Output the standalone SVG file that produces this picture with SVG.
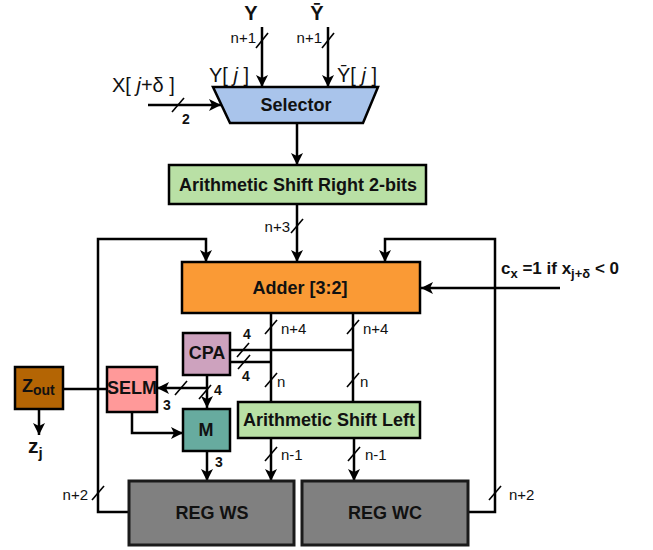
<svg xmlns="http://www.w3.org/2000/svg" width="653" height="550" viewBox="0 0 653 550">
<defs>
<marker id="arr" viewBox="0 0 12 12" refX="12" refY="6" markerWidth="12" markerHeight="12" markerUnits="userSpaceOnUse" orient="auto">
<path d="M0,0 L12,6 L0,12 L3,6 z" fill="#000"/>
</marker>
<style>
.box{stroke:#000;stroke-width:2.5}
.t{font-family:"Liberation Sans",Arial,sans-serif;font-weight:bold;font-size:18px;text-anchor:middle;fill:#111}
.s{font-family:"Liberation Sans",Arial,sans-serif;font-size:15px;fill:#111}
.b{font-family:"Liberation Sans",Arial,sans-serif;font-weight:bold;fill:#111}
.r{font-family:"Liberation Sans",Arial,sans-serif;fill:#111}
.w{fill:none;stroke:#000;stroke-width:2.5}
.a{fill:none;stroke:#000;stroke-width:2.5;marker-end:url(#arr)}
.sl{stroke:#000;stroke-width:1.6}
</style>
</defs>
<rect width="653" height="550" fill="#fff"/>

<g id="connectors">
<line class="a" x1="262" y1="27" x2="262" y2="87"/>
<line class="a" x1="328" y1="27" x2="328" y2="87"/>
<line class="a" x1="148" y1="105" x2="221" y2="105"/>
<line class="a" x1="297" y1="123" x2="297" y2="165"/>
<line class="a" x1="297" y1="204" x2="297" y2="262"/>
<path class="a" d="M129,512 H98 V239 H206 V262"/>
<path class="a" d="M467,512 H495 V239 H385 V262"/>
<line class="a" x1="560" y1="288" x2="421" y2="288"/>
<line class="w" x1="271" y1="313" x2="271" y2="402"/>
<line class="w" x1="353" y1="313" x2="353" y2="402"/>
<line class="w" x1="230" y1="350" x2="353" y2="350"/>
<line class="w" x1="230" y1="362" x2="271" y2="362"/>
<line class="a" x1="207" y1="375" x2="207" y2="408"/>
<line class="a" x1="207" y1="388" x2="157" y2="388"/>
<path class="a" d="M132,412 V433 H183"/>
<line class="w" x1="63" y1="389" x2="107" y2="389"/>
<line class="a" x1="39" y1="409" x2="39" y2="435"/>
<line class="a" x1="207" y1="451" x2="207" y2="481"/>
<line class="a" x1="271" y1="438" x2="271" y2="481"/>
<line class="a" x1="354" y1="438" x2="354" y2="481"/>
<!-- bus slashes -->
<line class="sl" x1="256" y1="48" x2="268" y2="33"/>
<line class="sl" x1="322" y1="48" x2="334" y2="33"/>
<line class="sl" x1="172" y1="112" x2="184" y2="98"/>
<line class="sl" x1="291" y1="233" x2="303" y2="219"/>
<line class="sl" x1="92" y1="500" x2="104" y2="486"/>
<line class="sl" x1="489" y1="500" x2="501" y2="486"/>
<line class="sl" x1="265" y1="334" x2="277" y2="320"/>
<line class="sl" x1="347" y1="334" x2="359" y2="320"/>
<line class="sl" x1="265" y1="387" x2="277" y2="373"/>
<line class="sl" x1="347" y1="387" x2="359" y2="373"/>
<line class="sl" x1="237" y1="357" x2="249" y2="343"/>
<line class="sl" x1="238" y1="369" x2="250" y2="355"/>
<line class="sl" x1="199" y1="399" x2="211" y2="385"/>
<line class="sl" x1="175" y1="395" x2="187" y2="381"/>
<line class="sl" x1="265" y1="461" x2="277" y2="447"/>
<line class="sl" x1="348" y1="461" x2="360" y2="447"/>
</g>

<g id="labels">
<text class="b" x="251" y="20" font-size="20" text-anchor="middle">Y</text>
<text class="b" x="317" y="20" font-size="20" text-anchor="middle">Ȳ</text>
<text class="s" x="256" y="43" text-anchor="end">n+1</text>
<text class="s" x="322" y="43" text-anchor="end">n+1</text>
<text class="r" x="209" y="82" font-size="20">Y[ <tspan font-style="italic">j</tspan> ]</text>
<text class="r" x="337" y="82" font-size="20">Ȳ[ <tspan font-style="italic">j</tspan> ]</text>
<text class="r" x="112" y="92" font-size="20">X[ <tspan font-style="italic">j</tspan>+δ ]</text>
<text class="b" x="182" y="124" font-size="14">2</text>
<text class="s" x="290" y="232" text-anchor="end">n+3</text>
<text class="b" x="501" y="274" font-size="17">c<tspan font-size="13" dy="4">x</tspan><tspan dy="-4"> =1 if x</tspan><tspan font-size="13" dy="4">j+δ</tspan><tspan dy="-4"> &lt; 0</tspan></text>
<text class="s" x="281" y="334">n+4</text>
<text class="s" x="363" y="334">n+4</text>
<text class="s" x="277" y="387">n</text>
<text class="s" x="360" y="387">n</text>
<text class="b" x="247" y="339" font-size="14" text-anchor="middle">4</text>
<text class="b" x="246" y="381" font-size="14" text-anchor="middle">4</text>
<text class="b" x="218" y="395" font-size="14" text-anchor="middle">4</text>
<text class="b" x="167" y="410" font-size="14" text-anchor="middle">3</text>
<text class="b" x="219" y="467" font-size="14" text-anchor="middle">3</text>
<text class="s" x="281" y="460">n-1</text>
<text class="s" x="365" y="460">n-1</text>
<text class="s" x="88" y="500" text-anchor="end">n+2</text>
<text class="s" x="509" y="500">n+2</text>
<text class="b" x="28" y="453" font-size="21">z<tspan font-size="15" dy="5">j</tspan></text>
</g>

<g id="selector">
<polygon class="box" points="213,87 378,87 363,123 230,123" fill="#A9C4EB"/>
<text class="t" x="296" y="111">Selector</text>
</g>
<g id="asr">
<rect class="box" x="169" y="165" width="257" height="39" fill="#B9E0A5"/>
<text class="t" x="298" y="191">Arithmetic Shift Right 2-bits</text>
</g>
<g id="adder">
<rect class="box" x="182" y="262" width="238" height="51" fill="#FA9A35"/>
<text class="t" x="300" y="294">Adder [3:2]</text>
</g>
<g id="cpa">
<rect class="box" x="183" y="333" width="47" height="42" fill="#CDA2BE"/>
<text class="t" x="207" y="359" font-size="15">CPA</text>
</g>
<g id="selm">
<rect class="box" x="107" y="367" width="50" height="45" fill="#FF9999"/>
<text class="t" x="132" y="394" font-size="13.5">SELM</text>
</g>
<g id="zout">
<rect class="box" x="15" y="367" width="48" height="42" fill="#B46504"/>
<text class="b" x="22" y="392" font-size="18">Z<tspan font-size="14" dy="3">out</tspan></text>
</g>
<g id="m">
<rect class="box" x="183" y="409" width="47" height="42" fill="#67AB9F"/>
<text class="t" x="206" y="436" font-size="16">M</text>
</g>
<g id="asl">
<rect class="box" x="238" y="402" width="182" height="36" fill="#B9E0A5"/>
<text class="t" x="329" y="426">Arithmetic Shift Left</text>
</g>
<g id="regws">
<rect x="129" y="481" width="165" height="64" fill="#808080" stroke="#1a1a1a" stroke-width="3"/>
<text class="t" x="212" y="519">REG WS</text>
</g>
<g id="regwc">
<rect x="302" y="481" width="166" height="64" fill="#808080" stroke="#1a1a1a" stroke-width="3"/>
<text class="t" x="385" y="519">REG WC</text>
</g>
</svg>
